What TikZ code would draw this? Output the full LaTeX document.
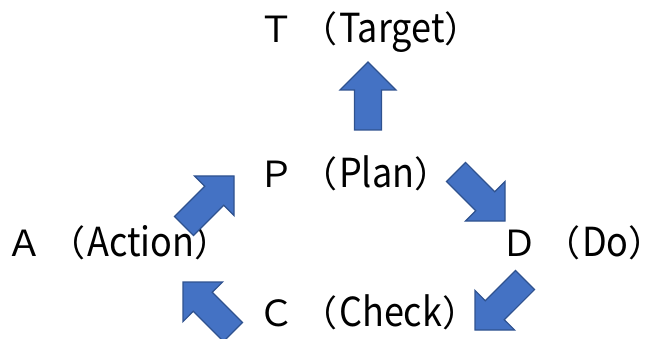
\documentclass[tikz,border=0pt]{standalone}
\usepackage{fontspec}
\setmainfont{Noto Sans CJK JP}
\newfontfamily\halfwidth[FakeStretch=0.9]{Noto Sans CJK JP}
\newcommand{\hw}[1]{\kern2pt{\halfwidth\fontsize{40}{40}\selectfont #1}}
\newcommand{\gap}{\kern7pt}
\newcommand{\rpar}{\makebox[10pt][l]{）}}
\usetikzlibrary{calc,positioning}
\definecolor{arrowfill}{HTML}{4472C4}
\definecolor{arrowline}{HTML}{2F528F}
\tikzset{%
	stage/.style    = {anchor=base west, inner sep=0pt, font=\fontsize{36}{36}\selectfont}, % PDCA label
	bigarrow/.style = {fill=arrowfill, draw=arrowline, line width=1.2pt, line join=miter,
		to path={($(\tikztostart)!13.5pt!90:(\tikztotarget)$)
			-- ($(\tikztotarget)!31.08pt!-25.74:(\tikztostart)$)
			-- ($(\tikztotarget)!39.6pt!-45:(\tikztostart)$)
			-- (\tikztotarget)
			-- ($(\tikztotarget)!39.6pt!45:(\tikztostart)$)
			-- ($(\tikztotarget)!31.08pt!25.74:(\tikztostart)$)
			-- ($(\tikztostart)!13.5pt!-90:(\tikztotarget)$) -- cycle}}, % block arrow
}

\begin{document}
\begin{tikzpicture}[x=1pt,y=-1pt]
	\useasboundingbox (0,0) rectangle (650,339);
	
	\node [stage] (t) at (258,43) {Ｔ\gap（\hw{Target}\rpar};
	\node [stage] (p) at (258,187) {Ｐ\gap（\hw{Plan}\rpar};
	\node [stage] (a) at (6,256) {Ａ\gap（\hw{Action}\rpar};
	\node [stage] (d) at (501,256) {Ｄ\gap（\hw{Do}\rpar};
	\node [stage] (c) at (258,326) {Ｃ\gap（\hw{Check}\rpar};
	
	\coordinate (pt1) at (368,130);
	\coordinate (pt2) at (368,62);
	\coordinate (pd1) at (456,172);
	\coordinate (pd2) at (505,221);
	\coordinate (dc1) at (525,280);
	\coordinate (dc2) at (475,330);
	\coordinate (ca1) at (233,332);
	\coordinate (ca2) at (183,282);
	\coordinate (ap1) at (184,226);
	\coordinate (ap2) at (234,176);
	
	\draw [bigarrow] (pt1) to (pt2);
	\draw [bigarrow] (pd1) to (pd2);
	\draw [bigarrow] (dc1) to (dc2);
	\draw [bigarrow] (ca1) to (ca2);
	\draw [bigarrow] (ap1) to (ap2);
\end{tikzpicture}
\end{document}
